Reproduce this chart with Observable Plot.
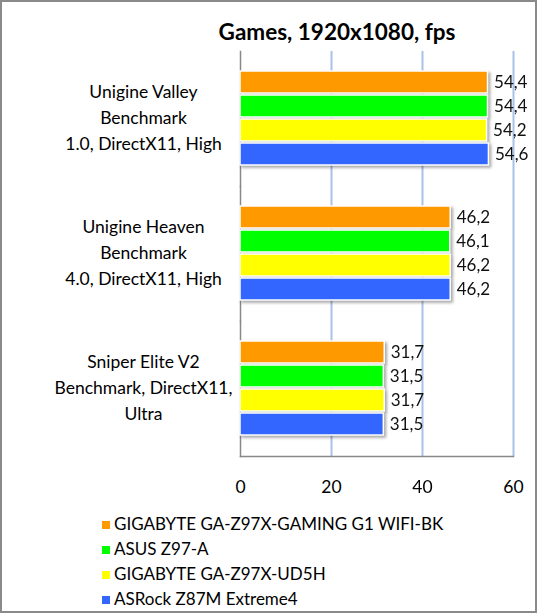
<!DOCTYPE html>
<html>
<head>
<meta charset="utf-8">
<script src="https://cdn.jsdelivr.net/npm/d3@7"></script>
<script src="https://cdn.jsdelivr.net/npm/@observablehq/plot@0.6"></script>
<style>
  html, body { margin: 0; padding: 0; background: #fff; }
  #wrap { position: relative; width: 537px; height: 613px; font-family: Lato, "Open Sans", sans-serif; color: #000; }
  #border { position: absolute; left: 0; top: 0; width: 537px; height: 613px; box-sizing: border-box; border: 2px solid #8a8a8a; pointer-events: none; }
  #title { position: absolute; left: 237px; width: 200px; top: 18px; text-align: center; font-weight: bold; font-size: 22.5px; white-space: nowrap; display: flex; justify-content: center; }
  #chart { position: absolute; left: 0; top: 0; }
  #legend { position: absolute; left: 102px; top: 511px; font-size: 17px; }
  .li { height: 25px; line-height: 25px; white-space: nowrap; }
  .sw { display: inline-block; width: 8px; height: 8px; margin-right: 4px; vertical-align: 1px; }
</style>
</head>
<body>
<div id="wrap">
  <div id="title"></div>
  <div id="chart"></div>
  <div id="legend"></div>
  <div id="border"></div>
</div>
<script>
const title = "Games, 1920x1080, fps";
const categories = [
  "Unigine Valley\nBenchmark\n1.0, DirectX11, High",
  "Unigine Heaven\nBenchmark\n4.0, DirectX11, High",
  "Sniper Elite V2\nBenchmark, DirectX11,\nUltra"
];
const series = [
  "GIGABYTE GA-Z97X-GAMING G1 WIFI-BK",
  "ASUS Z97-A",
  "GIGABYTE GA-Z97X-UD5H",
  "ASRock Z87M Extreme4"
];
const colors = ["#FF9900", "#00FF00", "#FFFF00", "#3366FF"];
const valuesGamingG1 = [54.4, 46.2, 31.7];
const valuesAsusZ97A = [54.4, 46.1, 31.5];
const valuesUD5H = [54.2, 46.2, 31.7];
const valuesASRock = [54.6, 46.2, 31.5];
const xTicks = [0, 20, 40, 60];

const seriesValues = [valuesGamingG1, valuesAsusZ97A, valuesUD5H, valuesASRock];
const data = [];
categories.forEach((c, ci) => {
  series.forEach((s, si) => {
    data.push({cat: c, series: s, value: seriesValues[si][ci]});
  });
});
const fmt = v => v.toFixed(1).replace(".", ",");

document.getElementById("title").textContent = title;

const chart = Plot.plot({
  width: 537,
  height: 500,
  marginTop: 50,
  marginBottom: 43,
  marginLeft: 240,
  marginRight: 24,
  style: {fontFamily: "Lato, 'Open Sans', sans-serif", background: "transparent", color: "#000"},
  x: {domain: [0, 60], label: null},
  y: {domain: series, axis: null, paddingInner: 0.08, paddingOuter: 0.8},
  fy: {domain: categories, padding: 0, label: null},
  color: {domain: series, range: colors},
  marks: [
    Plot.gridX(xTicks.slice(1), {stroke: "#a9c1e6", strokeOpacity: 1, strokeWidth: 2}),
    Plot.frame({anchor: "left", stroke: "#888", strokeWidth: 1.5}),
    Plot.frame({anchor: "bottom", stroke: "#888", strokeWidth: 1.5, fy: categories[2]}),
    Plot.barX(data, {fy: "cat", y: "series", x: "value", fill: "series", stroke: "#fff", strokeWidth: 1.5}),
    Plot.text(data, {fy: "cat", y: "series", x: "value", text: d => fmt(d.value), textAnchor: "start", dx: 6, fontSize: 17, fill: "#111"}),
    Plot.axisX({ticks: xTicks, tickSize: 0, tickPadding: 24, fontSize: 17.5, tickFormat: d => String(d)}),
    Plot.axisFy({anchor: "left", tickSize: 0, tickPadding: 97, dy: -3, textAnchor: "middle", fontSize: 17.5, lineHeight: 1.49, label: null})
  ]
});
chart.querySelectorAll('g[aria-label="bar"]').forEach(g => {
  g.style.filter = "drop-shadow(2px 2px 1.5px rgba(0,0,0,0.35))";
});
document.getElementById("chart").appendChild(chart);

const legend = document.getElementById("legend");
series.forEach((s, i) => {
  const row = document.createElement("div");
  row.className = "li";
  const sw = document.createElement("span");
  sw.className = "sw";
  sw.style.background = colors[i];
  row.appendChild(sw);
  row.appendChild(document.createTextNode(s));
  legend.appendChild(row);
});
</script>
</body>
</html>
